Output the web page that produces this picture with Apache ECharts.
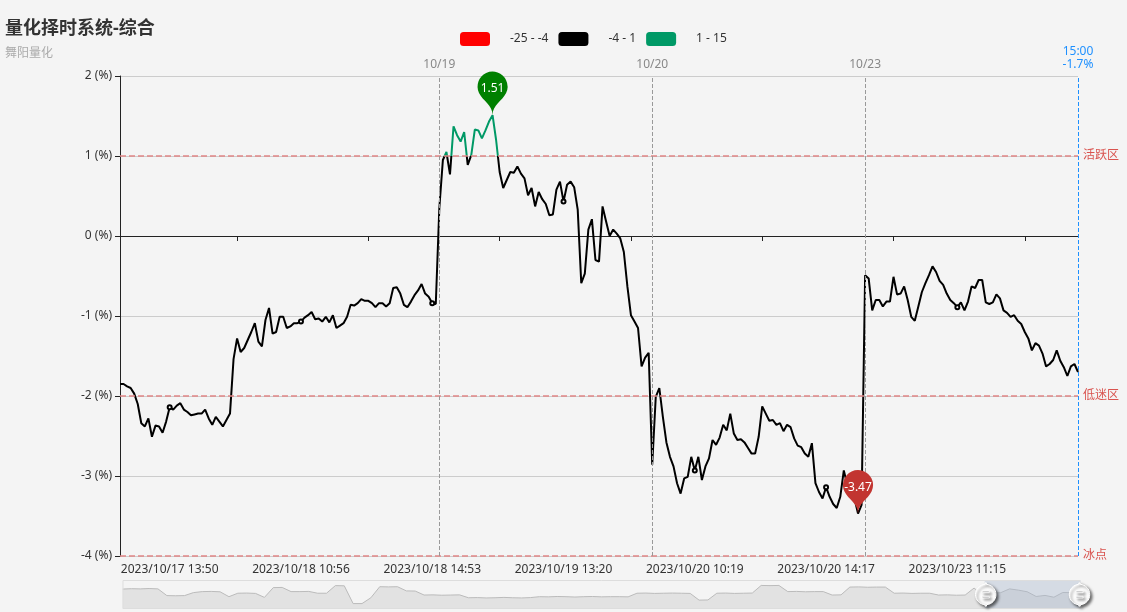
<!DOCTYPE html>
<html>
<head>
<meta charset="utf-8">
<title>量化择时系统-综合</title>
<script src="https://cdn.jsdelivr.net/npm/echarts@6/dist/echarts.min.js"></script>
<style>
  html, body { margin: 0; padding: 0; background: #f4f4f4; }
  #main { width: 1127px; height: 612px; }
</style>
</head>
<body>
<div id="main"></div>
<script>
// visible window: 10/17 afternoon .. 10/23 close, one point ~ 4 min
var values = [
  -1.85, -1.85, -1.88, -1.90, -1.97, -2.10, -2.34, -2.38, -2.28, -2.51,
  -2.37, -2.38, -2.46, -2.32, -2.14, -2.17, -2.12, -2.09, -2.17, -2.20,
  -2.24, -2.23, -2.22, -2.22, -2.17, -2.28, -2.36, -2.26, -2.32, -2.38,
  -2.30, -2.22, -1.54, -1.28, -1.45, -1.40, -1.30, -1.20, -1.09, -1.32,
  -1.38, -1.05, -0.90, -1.22, -1.20, -1.01, -1.01, -1.15, -1.13, -1.09,
  -1.09, -1.07, -1.02, -0.99, -0.95, -1.04, -1.03, -1.07, -1.01, -1.08,
  -0.99, -1.15, -1.12, -1.09, -1.01, -0.86, -0.87, -0.84, -0.79, -0.81,
  -0.81, -0.84, -0.89, -0.84, -0.84, -0.88, -0.84, -0.65, -0.64, -0.72,
  -0.86, -0.89, -0.82, -0.74, -0.68, -0.60, -0.72, -0.76, -0.84, -0.85,
  0.35, 0.95, 1.05, 0.77, 1.37, 1.26, 1.18, 1.30, 0.89, 1.01,
  1.33, 1.32, 1.22, 1.32, 1.43, 1.51, 1.20, 0.80, 0.60, 0.70,
  0.80, 0.79, 0.87, 0.78, 0.72, 0.51, 0.60, 0.37, 0.55, 0.46,
  0.40, 0.26, 0.27, 0.58, 0.68, 0.43, 0.64, 0.68, 0.61, 0.33,
  -0.59, -0.47, 0.08, 0.21, -0.30, -0.32, 0.37, 0.18, 0.00, 0.08,
  0.03, -0.03, -0.20, -0.63, -0.99, -1.07, -1.15, -1.63, -1.52, -1.46,
  -2.86, -2.01, -1.90, -2.26, -2.58, -2.76, -2.88, -3.09, -3.22, -3.03,
  -3.01, -2.76, -2.93, -2.76, -3.05, -2.88, -2.78, -2.55, -2.61, -2.52,
  -2.36, -2.43, -2.22, -2.47, -2.55, -2.54, -2.58, -2.65, -2.72, -2.72,
  -2.51, -2.13, -2.22, -2.31, -2.30, -2.36, -2.34, -2.44, -2.36, -2.39,
  -2.53, -2.62, -2.64, -2.72, -2.76, -2.59, -3.09, -3.20, -3.28, -3.14,
  -3.26, -3.35, -3.40, -3.26, -2.93, -3.12, -3.09, -3.28, -3.47, -3.36,
  -0.49, -0.53, -0.93, -0.80, -0.80, -0.88, -0.82, -0.82, -0.51, -0.73,
  -0.72, -0.63, -0.80, -1.01, -1.06, -0.88, -0.70, -0.59, -0.49, -0.38,
  -0.45, -0.56, -0.61, -0.72, -0.80, -0.84, -0.89, -0.83, -0.93, -0.82,
  -0.63, -0.65, -0.55, -0.55, -0.83, -0.85, -0.83, -0.73, -0.78, -0.93,
  -0.96, -1.01, -0.99, -1.06, -1.10, -1.20, -1.28, -1.43, -1.34, -1.37,
  -1.47, -1.63, -1.60, -1.55, -1.43, -1.56, -1.64, -1.75, -1.63, -1.60,
  -1.70
];

// time labels shown under the axis, one every labelStep points from labelStart
var tickLabels = [
  '2023/10/17 13:50', '2023/10/18 10:56', '2023/10/18 14:53', '2023/10/19 13:20',
  '2023/10/20 10:19', '2023/10/20 14:17', '2023/10/23 11:15'
];
var labelStart = 14;
var labelStep = 37;
var tickStart = 33;

// first point of each trading day
var dayStarts = [90, 150, 210];
var dayNames = ['10/19', '10/20', '10/23'];
var lastTime = '15:00';

// reference levels
var levels = [1, -2, -4];
var levelNames = ['活跃区', '低迷区', '冰点'];

// long history, only used for the thumbnail of the slider
var historyValues = [
  1.2, 1.4, 1.3, 1.5, 1.3, -2.4, -2.5, -2.4, -0.75, -0.2,
  -0.1, -0.3, -3.0, -1.1, -1.0, -1.2, -3.4, 2.0, 2.1, -0.2,
  -0.2, -0.1, -1.1, -1.1, 3.1, 3.0, -6.8, -6.8, -3.6, 2.5,
  2.4, 2.5, 0.2, 0.1, -2.1, -2.0, -2.2, -2.1, -2.0, -3.6,
  -3.5, -3.7, -3.6, -3.4, -3.6, -3.7, -3.5, -3.0, -3.1, -2.9,
  -3.0, -3.2, -3.0, -2.9, -3.1, -3.0, -3.0, -3.1, -1.1, -1.0,
  -1.2, -1.1, -1.0, -1.1, -1.2, -4.9, -4.8, -1.1, -1.0, -1.2,
  -1.1, -1.0, 3.2, 3.1, 3.2, -0.2, -0.1, -0.3, -0.2, -0.2,
  -2.1, -2.0, 2.3, 2.4, 2.2, 2.3, 2.3, -1.1, -1.0, -1.2,
  -1.1, -1.1, -2.1, -2.0, -2.2, -2.1, 1.75, -2.2, -1.1, -0.8,
  1.3, 0.6, -0.3, -2.9, -2.3, -3.3, -0.7, -0.8, -1.7
];

var cats = values.map(function (v, i) { return String(i); });
var histCats = historyValues.map(function (v, i) { return String(i); });

var font = '"Noto Sans", "Noto Sans CJK SC", sans-serif';
var levelColor = '#d9534f';

var chart = echarts.init(document.getElementById('main'));

var markLineData = levels.map(function (lv, i) {
  return {
    yAxis: lv, name: levelNames[i],
    lineStyle: { color: '#e08585', type: 'dashed', width: 1.5 },
    label: { formatter: '{b}', color: levelColor }
  };
});
dayStarts.forEach(function (idx, i) {
  markLineData.push({
    xAxis: idx, name: dayNames[i],
    lineStyle: { color: '#999', type: 'dashed', width: 1 },
    label: { formatter: '{b}', color: '#888' }
  });
});
markLineData.push({
  xAxis: values.length - 1,
  name: lastTime + '\n' + values[values.length - 1].toFixed(1) + '%',
  lineStyle: { color: '#1e90ff', type: 'dashed', width: 1 },
  label: { formatter: '{b}', color: '#1e90ff', lineHeight: 13 }
});

var option = {
  backgroundColor: '#f4f4f4',
  textStyle: { fontFamily: font },
  animation: false,
  title: {
    text: '量化择时系统-综合',
    subtext: '舞阳量化',
    left: 0,
    top: 15,
    textStyle: { fontSize: 18, fontWeight: 'bold', color: '#333', fontFamily: font },
    subtextStyle: { fontSize: 12, color: '#aaa', fontFamily: font }
  },
  visualMap: {
    type: 'piecewise',
    seriesIndex: 0,
    dimension: 1,
    orient: 'horizontal',
    left: 445,
    top: 17,
    itemWidth: 30,
    itemHeight: 14,
    itemGap: 10,
    textGap: 20,
    textStyle: { color: '#333', fontSize: 12 },
    pieces: [
      { min: -25, max: -4, color: 'red' },
      { min: -4, max: 1, color: '#000' },
      { min: 1, max: 15, color: '#009966' }
    ]
  },
  grid: [
    { left: 120, right: 49, top: 76, bottom: 56, containLabel: false },
    { left: 120, right: 49, top: 0, height: 10, show: false }
  ],
  xAxis: [
    {
      type: 'category', gridIndex: 0, data: cats, boundaryGap: false, position: 'bottom',
      axisLine: { show: false, onZero: false },
      axisTick: { show: false },
      splitLine: { show: false },
      axisLabel: {
        color: '#333', fontSize: 12, margin: 8,
        interval: function (index) { return index >= labelStart && (index - labelStart) % labelStep === 0; },
        formatter: function (value, index) { return tickLabels[(index - labelStart) / labelStep] || ''; }
      }
    },
    {
      type: 'category', gridIndex: 0, data: cats, boundaryGap: false, position: 'top',
      axisLine: { show: true, onZero: true, lineStyle: { color: '#222' } },
      axisTick: {
        show: true, inside: true, length: 5, lineStyle: { color: '#222' },
        interval: function (index) { return index >= tickStart && (index - tickStart) % labelStep === 0; }
      },
      axisLabel: { show: false },
      splitLine: { show: false }
    },
    { type: 'category', gridIndex: 1, data: histCats, show: false }
  ],
  yAxis: [
    {
      type: 'value', gridIndex: 0, min: -4, max: 2, interval: 1,
      axisLine: { show: true, lineStyle: { color: '#222' } },
      axisTick: { show: true, length: 5, lineStyle: { color: '#222' } },
      axisLabel: { color: '#333', fontSize: 12, formatter: '{value} (%)' },
      splitLine: { lineStyle: { color: '#ccc' } }
    },
    { type: 'value', gridIndex: 1, show: false }
  ],
  dataZoom: [{
    type: 'slider',
    xAxisIndex: 2,
    start: 90,
    end: 100,
    left: 120,
    right: 49,
    top: 580,
    height: 29,
    showDetail: false,
    brushSelect: false,
    moveHandleSize: 0,
    borderColor: '#ddd',
    backgroundColor: 'rgba(0,0,0,0)',
    fillerColor: 'rgba(167,183,204,0.4)',
    dataBackground: {
      lineStyle: { color: '#bbb', width: 1 },
      areaStyle: { color: '#ccc', opacity: 0.45 }
    },
    selectedDataBackground: {
      lineStyle: { color: '#bbb', width: 1 },
      areaStyle: { color: '#ccc', opacity: 0.45 }
    },
    handleIcon: 'M10.7,11.9v-1.3H9.3v1.3c-4.9,0.3-8.8,4.4-8.8,9.4c0,5,3.9,9.1,8.8,9.4v1.3h1.3v-1.3c4.9-0.3,8.8-4.4,8.8-9.4C19.5,16.3,15.6,12.2,10.7,11.9z M13.3,24.4H6.7V23h6.6V24.4z M13.3,19.6H6.7v-1.4h6.6V19.6z',
    handleSize: '80%',
    handleStyle: {
      color: '#fff',
      borderColor: '#fff',
      shadowBlur: 3,
      shadowColor: 'rgba(0, 0, 0, 0.6)',
      shadowOffsetX: 2,
      shadowOffsetY: 2
    }
  }],
  series: [
    {
      name: '综合',
      type: 'line',
      xAxisIndex: 0,
      yAxisIndex: 0,
      data: values,
      symbol: 'emptyCircle',
      symbolSize: 4,
      showAllSymbol: 'auto',
      lineStyle: { width: 2 },
      markPoint: {
        symbolSize: 50,
        label: { color: '#fff', fontSize: 12 },
        data: [
          { type: 'max', name: '最高', itemStyle: { color: 'green' } },
          { type: 'min', name: '最低', itemStyle: { color: '#c23531' } }
        ]
      },
      markLine: {
        silent: true,
        symbol: ['none', 'none'],
        label: { position: 'end', fontSize: 12 },
        data: markLineData
      }
    },
    {
      name: 'history',
      type: 'line',
      xAxisIndex: 2,
      yAxisIndex: 1,
      data: historyValues,
      showSymbol: false,
      silent: true,
      lineStyle: { opacity: 0 }
    }
  ]
};

chart.setOption(option);
</script>
</body>
</html>
